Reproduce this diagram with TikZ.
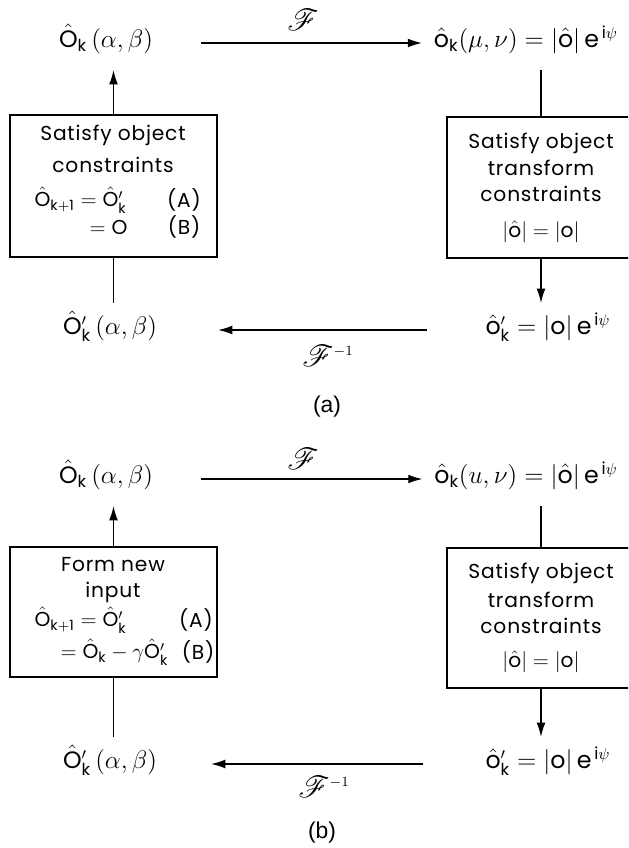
\documentclass[tikz,border=0pt]{standalone}
\usepackage{amsmath}
\usepackage{mathrsfs}
\usepackage{fontspec}
\setmainfont{Poppins}[LetterSpace=4]
\setsansfont{Poppins}
\newfontfamily\capfont{Liberation Sans}
\usetikzlibrary{arrows.meta}

\newcommand{\Ohat}{\hat{\mathsf{O}}}
\newcommand{\ohat}{\hat{\mathsf{o}}}
\newcommand{\subk}{_{\mathsf{k}}}
\newcommand{\eipsi}{\mathsf{e}^{\,\mathsf{i}\psi}}
\newcommand{\Finv}{\mathscr{F}^{\scriptscriptstyle -1}}

\begin{document}
\begin{tikzpicture}[x=0.2mm, y=-0.2mm, >={Latex[length=8pt,width=5pt]}, line width=0.7pt,
  font=\fontsize{11.5}{13}\selectfont,
  lbl/.style={inner sep=0pt, outer ysep=10pt, text height=8pt, text depth=3pt, font=\fontsize{13.5}{15}\selectfont},
  blk/.style={draw, line width=0.9pt, inner sep=0pt},
  txt/.style={inner sep=0pt},
  tf/.style={inner sep=0pt, font=\fontsize{17}{19}\selectfont},
  figcap/.style={inner sep=0pt, font=\capfont\fontsize{13}{15}\selectfont}]
  \clip (0,0) rectangle (628,848);

  % ----- (a) -----
  \node[lbl] (Oa) at (106,43) {$\Ohat\subk\,(\alpha,\beta)$};
  \node[lbl] (oa) at (526,43) {$\ohat\subk(\mu,\nu)=|\ohat|\,\eipsi$};
  \node[lbl] (Opa) at (110,330) {$\Ohat'\subk\,(\alpha,\beta)$};
  \node[lbl] (opa) at (548,330) {$\ohat'\subk = |\mathsf{o}|\,\eipsi$};

  % transform
  \node[tf] (Fa) at (303,20) {$\mathscr{F}$};
  \node[tf] (Fia) at (328,356) {$\Finv$};

  % left box
  \node[blk, minimum width=41.4mm, minimum height=28.4mm] (LBa) at (113.5,186) {};
  \node[txt] (la1) at (113,135) {Satisfy object};
  \node[txt] (la2) at (113,165) {constraints};
  \node[txt, anchor=west] (la3) at (34,200) {$\Ohat_{\mathsf{k+1}}=\Ohat'\subk$};
  \node[txt] (la4) at (184,200) {(A)};
  \node[txt, anchor=west] (la5) at (89,227) {$=\mathsf{O}$};
  \node[txt] (la6) at (184,227) {(B)};

  % right box
  \node[blk, minimum width=37.6mm, minimum height=28.2mm] (RBa) at (541,187.5) {};
  \node[txt] (ra1) at (541,143) {Satisfy object};
  \node[txt] (ra2) at (541,168) {transform};
  \node[txt] (ra3) at (541,194) {constraints};
  \node[txt] (ra4) at (541,232) {$|\ohat|=|\mathsf{o}|$};

  \draw[->] (LBa.north) -- (LBa.north |- Oa.south);
  \draw (Opa.north -| LBa.south) -- (LBa.south);
  \draw (oa.south -| RBa.north) -- (RBa.north);
  \draw[->] (RBa.south) -- (RBa.south |- opa.north);
  \draw[->, shorten <=27pt, shorten >=6.5pt] (Oa.east) -- (Oa.east -| oa.west);
  \draw[->, shorten <=33pt, shorten >=34.5pt] (opa.west) -- (opa.west -| Opa.east);

  \node[figcap] (capa) at (327,407) {(a)};

  % ----- (b) -----
  \node[lbl] (Ob) at (106,479) {$\Ohat\subk\,(\alpha,\beta)$};
  \node[lbl] (ob) at (526,479) {$\ohat\subk(u,\nu)=|\ohat|\,\eipsi$};
  \node[lbl] (Opb) at (110,764) {$\Ohat'\subk\,(\alpha,\beta)$};
  \node[lbl] (opb) at (548,764) {$\ohat'\subk = |\mathsf{o}|\,\eipsi$};

  \node[tf] (Fb) at (303,459) {$\mathscr{F}$};
  \node[tf] (Fib) at (324,787) {$\Finv$};

  % left box
  \node[blk, minimum width=41.4mm, minimum height=26mm] (LBb) at (113.5,612) {};
  \node[txt] (lb1) at (113,565) {Form new};
  \node[txt] (lb2) at (113,592) {input};
  \node[txt, anchor=west] (lb3) at (34,620) {$\Ohat_{\mathsf{k+1}}=\Ohat'\subk$};
  \node[txt] (lb4) at (196,620) {(A)};
  \node[txt, anchor=west] (lb5) at (60,652) {$=\Ohat\subk-\gamma\Ohat'\subk$};
  \node[txt] (lb6) at (198,652) {(B)};

  % right box
  \node[blk, minimum width=37.6mm, minimum height=28mm] (RBb) at (541,618) {};
  \node[txt] (rb1) at (541,573) {Satisfy object};
  \node[txt] (rb2) at (541,600) {transform};
  \node[txt] (rb3) at (541,626) {constraints};
  \node[txt] (rb4) at (541,662) {$|\ohat|=|\mathsf{o}|$};

  \draw[->] (LBb.north) -- (LBb.north |- Ob.south);
  \draw (Opb.north -| LBb.south) -- (LBb.south);
  \draw (ob.south -| RBb.north) -- (RBb.north);
  \draw[->] (RBb.south) -- (RBb.south |- opb.north);
  \draw[->, shorten <=27pt, shorten >=6.5pt] (Ob.east) -- (Ob.east -| ob.west);
  \draw[->, shorten <=35pt, shorten >=30.5pt] (opb.west) -- (opb.west -| Opb.east);

  \node[figcap] (capb) at (322,833) {(b)};
\end{tikzpicture}
\end{document}
